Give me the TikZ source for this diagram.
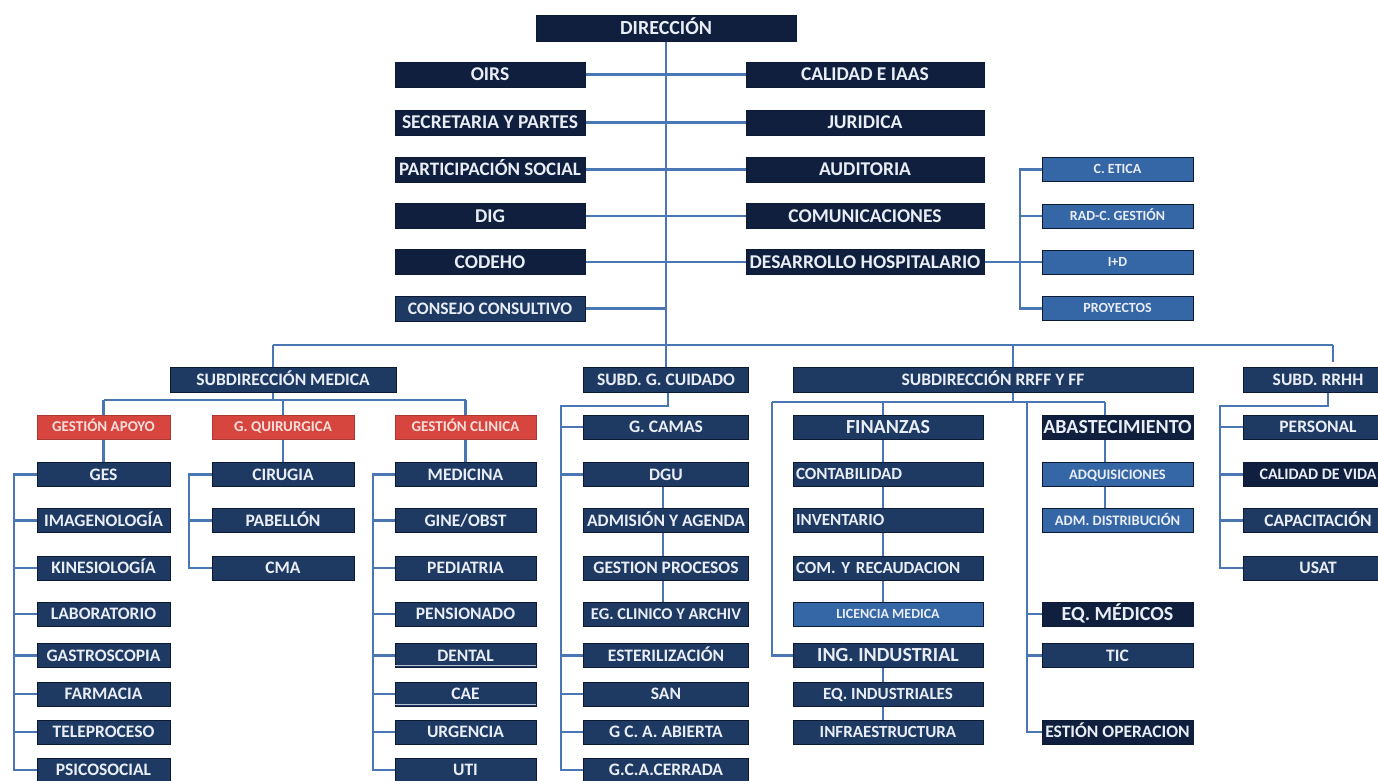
\documentclass[tikz,border=0pt]{standalone}
\usepackage{fontspec}
\setmainfont{Carlito}
\usetikzlibrary{calc}
\pgfdeclarelayer{paper}
\pgfdeclarelayer{wires}
\pgfsetlayers{paper,wires,main}
\newcommand\fsz[1]{\fontsize{#1}{#1}\selectfont}
\definecolor{topnavy}{HTML}{0F1F3D}
\definecolor{navy}{HTML}{1E3A62}
\definecolor{paleblue}{HTML}{3566A6}
\definecolor{redbox}{HTML}{D6463F}
\definecolor{boxtext}{HTML}{E9EEF6}
\definecolor{redtext}{HTML}{F8DEDA}
\definecolor{wire}{HTML}{4A76B4}
\definecolor{edge}{HTML}{0C1A33}
\definecolor{rule}{HTML}{B8C2D2}
\begin{document}
\frenchspacing
\begin{tikzpicture}[x=1pt,y=-1pt,
  fs/.style={font=\bfseries\frenchspacing\fsz{#1}, text height={0.64*#1pt}, text depth=0pt},
  box/.style={draw=edge, line width=0.6pt, text=boxtext, inner sep=0pt,
    minimum height=24pt, fs=17.5},
  top/.style={box, fill=topnavy, minimum height=25pt, fs=19.5},
  unit/.style={box, fill=navy},
  pale/.style={box, fill=paleblue, fs=15},
  redb/.style={box, fill=redbox, text=redtext, draw=redbox!80!black, fs=15},
  big/.style={fs=20},
  lft/.style={text width=184pt, align=left, inner xsep=3pt},
  lc/.style={minimum width=190pt},
  rc/.style={minimum width=238pt},
  wire/.style={draw=wire, line width=2.8pt},
  stub/.style={draw=wire, line width=2.8pt}]
\clip (0,0) rectangle (1378,780);
\begin{pgfonlayer}{paper}
\fill[white] (0,0) rectangle (1378,780);
\end{pgfonlayer}

% ---------- direction and staff units ----------
\node[top, minimum width=260pt, minimum height=26pt, fs=20] (dir) at (666,28) {DIRECCIÓN};

\node[top,lc] (oirs) at (490,74.5) {OIRS};
\node[top,lc] (sec) at (490,122.5) {SECRETARIA Y PARTES};
\node[top,lc,fs=19] (par) at (490,169.5) {PARTICIPACIÓN SOCIAL};
\node[top,lc] (dig) at (490,216) {DIG};
\node[top,lc] (cod) at (490,262) {CODEHO};
\node[top,lc,fill=navy,fs=17.5] (cons) at (490,308.5) {CONSEJO CONSULTIVO};

\node[top,rc] (cal) at (865,74.5) {CALIDAD E IAAS};
\node[top,rc] (jur) at (865,122.5) {JURIDICA};
\node[top,rc] (aud) at (865,169.5) {AUDITORIA};
\node[top,rc] (com) at (865,216) {COMUNICACIONES};
\node[top,rc] (des) at (865,262) {DESARROLLO HOSPITALARIO};

\node[pale, minimum width=151pt, fs=14] (eti) at (1117.5,169.5) {C. ETICA};
\node[pale, minimum width=151pt, fs=14] (rad) at (1117.5,216) {RAD-C. GESTIÓN};
\node[pale, minimum width=151pt, fs=14] (imd) at (1117.5,262) {I+D};
\node[pale, minimum width=151pt, fs=14] (pro) at (1117.5,308.5) {PROYECTOS};

% ---------- subdirections ----------
\node[unit, minimum width=226pt, minimum height=25pt] (smed) at (283,379.5) {SUBDIRECCIÓN MEDICA};
\node[unit, minimum width=165pt, minimum height=25pt] (scui) at (666,379.5) {SUBD. G. CUIDADO};
\node[unit, minimum width=400pt, minimum height=25pt] (srf) at (993,379.5) {SUBDIRECCIÓN RRFF Y FF};
\node[unit, minimum width=150pt, minimum height=25pt] (srh) at (1318,379.5) {SUBD. RRHH};

% ---------- medical management ----------
\node[redb, minimum width=133pt] (apo) at (103.5,427) {GESTIÓN APOYO};
\node[redb, minimum width=142pt] (qui) at (283,427) {G. QUIRURGICA};
\node[redb, minimum width=141pt] (cli) at (465.5,427) {GESTIÓN CLINICA};

\begin{scope}[every node/.append style={unit, minimum width=133pt}]
\node (ges) at (103.5,474.5) {GES};
\node (ima) at (103.5,520.5) {IMAGENOLOGÍA};
\node (kin) at (103.5,568) {KINESIOLOGÍA};
\node (lab) at (103.5,614) {LABORATORIO};
\node (gas) at (103.5,655.5) {GASTROSCOPIA};
\node (far) at (103.5,694) {FARMACIA};
\node (tel) at (103.5,732) {TELEPROCESO};
\node (psi) at (103.5,770) {PSICOSOCIAL};
\end{scope}

\begin{scope}[every node/.append style={unit, minimum width=142pt}]
\node (cir) at (283,474.5) {CIRUGIA};
\node (pab) at (283,520.5) {PABELLÓN};
\node (cma) at (283,568) {CMA};
\end{scope}

\begin{scope}[every node/.append style={unit, minimum width=141pt}]
\node (med) at (465.5,474.5) {MEDICINA};
\node (gin) at (465.5,520.5) {GINE/OBST};
\node (ped) at (465.5,568) {PEDIATRIA};
\node (pen) at (465.5,614) {PENSIONADO};
\node (den) at (465.5,655.5) {DENTAL};
\node (cae) at (465.5,694) {CAE};
\node (urg) at (465.5,732) {URGENCIA};
\node (uti) at (465.5,770) {UTI};
\end{scope}

% ---------- care management ----------
\begin{scope}[every node/.append style={unit, minimum width=165pt}]
\node (gcam) at (666,427) {G. CAMAS};
\node (dgu) at (666,474.5) {DGU};
\node (adm) at (666,520.5) {ADMISIÓN Y AGENDA};
\node (gpro) at (666,568) {GESTION PROCESOS};
\node[fs=16.5] (reg) at (666,614) {EG. CLINICO Y ARCHIV};
\node (est) at (666,655.5) {ESTERILIZACIÓN};
\node (san) at (666,694) {SAN};
\node (gca) at (666,732) {G C. A. ABIERTA};
\node (gcc) at (666,770) {G.C.A.CERRADA};
\end{scope}

% ---------- physical and financial resources ----------
\begin{scope}[every node/.append style={minimum width=190pt}]
\node[unit,big] (fin) at (888,427) {FINANZAS};
\node[unit,lft,fs=17] (cont) at (888,474.5) {CONTABILIDAD};
\node[unit,lft,fs=17] (inv) at (888,520.5) {INVENTARIO};
\node[unit,lft,fs=17] (comr) at (888,568) {COM. Y RECAUDACION};
\node[pale,fs=14] (lic) at (888,614) {LICENCIA MEDICA};
\node[unit,big] (ing) at (888,655.5) {ING. INDUSTRIAL};
\node[unit,fs=17] (eqi) at (888,694) {EQ. INDUSTRIALES};
\node[unit,fs=17] (inf) at (888,732) {INFRAESTRUCTURA};
\end{scope}

\begin{scope}[every node/.append style={minimum width=151pt}]
\node[unit,fill=topnavy,big] (aba) at (1117.5,427) {ABASTECIMIENTO};
\node[pale,fs=14.5] (adq) at (1117.5,474.5) {ADQUISICIONES};
\node[pale,fs=14.5] (admd) at (1117.5,520.5) {ADM. DISTRIBUCIÓN};
\node[unit,fill=topnavy,big] (eqm) at (1117.5,614) {EQ. MÉDICOS};
\node[unit] (tic) at (1117.5,655.5) {TIC};
\node[unit,fill=topnavy] (gop) at (1117.5,732) {ESTIÓN OPERACION};
\end{scope}

% ---------- human resources ----------
\begin{scope}[every node/.append style={unit, minimum width=150pt}]
\node (per) at (1318,427) {PERSONAL};
\node[fill=topnavy,fs=16] (cdv) at (1318,474.5) {CALIDAD DE VIDA};
\node (cap) at (1318,520.5) {CAPACITACIÓN};
\node (usa) at (1318,568) {USAT};
\end{scope}

% second rule under two of the clinical units
\foreach \n in {den,cae}
  \draw[rule, line width=1.3pt] ([yshift=2pt]\n.south west) -- ([yshift=2pt]\n.south east);

% ---------- connectors ----------
\begin{pgfonlayer}{wires}
\coordinate (busl) at (273,345);
\coordinate (busr) at (1333,345);
\coordinate (dx) at (1020,0);

% trunk and staff rows
\draw[wire] (dir) -- (scui);
\draw[wire] (oirs) -- (cal);
\draw[wire] (sec) -- (jur);
\draw[wire] (par) -- (aud);
\draw[wire] (dig) -- (com);
\draw[wire] (cod) -- (des);
\draw[wire] (cons.east) -- (cons.east -| dir.south);

% development bracket
\draw[wire] (des.east) -- (des.east -| dx);
\draw[wire] (eti.west) -- (eti.west -| dx) -- (pro.west -| dx) -- (pro.west);
\foreach \n in {rad,imd} \draw[stub] (\n.west) -- (\n.west -| dx);

% main bus
\draw[wire] (busl) -- (busr);
\draw[wire] (busl) -- (busl |- smed.north);
\draw[wire] (1013,345) -- (1013,402);
\draw[wire] (busr) -- ([yshift=5pt]busr |- srh.north);

% medical subdirection
\coordinate (mj) at (273,400);
\draw[wire] (mj |- smed.south) -- (mj);
\draw[wire] (apo.north |- mj) -- (cli.north |- mj);
\foreach \n in {apo,qui,cli} \draw[wire] (\n.north |- mj) -- (\n.north);
\draw[wire] (apo) -- (ges);
\draw[wire] (qui) -- (cir);
\draw[wire] (cli) -- (med);

\coordinate (ax) at (14,0);
\draw[wire] (ges.west) -- (ges.west -| ax) -- (psi.west -| ax) -- (psi.west);
\foreach \n in {ima,kin,lab,gas,far,tel} \draw[stub] (\n.west) -- (\n.west -| ax);

\coordinate (bx) at (189,0);
\draw[wire] (cir.west) -- (cir.west -| bx) -- (cma.west -| bx) -- (cma.west);
\draw[stub] (pab.west) -- (pab.west -| bx);

\coordinate (cx) at (373,0);
\draw[wire] (med.west) -- (med.west -| cx) -- (uti.west -| cx) -- (uti.west);
\foreach \n in {gin,ped,pen,den,cae,urg} \draw[stub] (\n.west) -- (\n.west -| cx);

% care subdirection
\coordinate (cj) at (668,406);
\coordinate (cl) at (561,406);
\draw[wire] (cj |- scui.south) -- (cj) -- (cl) -- (cl |- gcc.west) -- (gcc.west);
\foreach \n in {gcam,dgu,est,san,gca} \draw[stub] (\n.west) -- (\n.west -| cl);
\draw[wire] ([xshift=-3pt]dgu.center) -- ([xshift=-3pt]reg.center);

% resources subdirection
\coordinate (fl) at (772,402);
\coordinate (fr) at (1105,402);
\coordinate (fm) at (883,402);
\coordinate (fx) at (1027,402);
\draw[wire] (fl) -- (fr);
\draw[wire] (fl) -- (fl |- ing.west) -- (ing.west);
\draw[wire] (fm) -- (fm |- lic.north);
\draw[wire] (fm |- ing.center) -- (fm |- inf.center);
\draw[wire] (fr) -- (fr |- admd.north);
\draw[wire] (fx) -- (fx |- gop.west) -- (gop.west);
\foreach \n in {eqm,tic} \draw[stub] (\n.west) -- (\n.west -| fx);

% human resources subdirection
\coordinate (hj) at (1328,406);
\coordinate (hl) at (1220,406);
\draw[wire] (hj |- srh.south) -- (hj) -- (hl) -- (hl |- usa.west) -- (usa.west);
\foreach \n in {per,cdv,cap} \draw[stub] (\n.west) -- (\n.west -| hl);
\end{pgfonlayer}
\end{tikzpicture}
\end{document}
